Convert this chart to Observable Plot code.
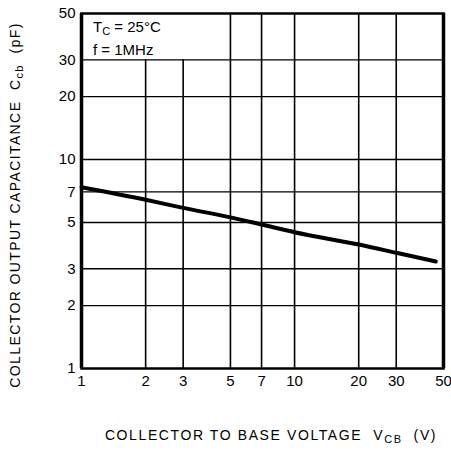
<!DOCTYPE html>
<html><head><meta charset="utf-8">
<script src="https://cdn.jsdelivr.net/npm/d3@7"></script>
<script src="https://cdn.jsdelivr.net/npm/@observablehq/plot@0.6"></script>
<style>
body{margin:0;background:#fff;}
#chart{width:451px;height:452px;}
svg text{font-family:"Liberation Sans",Arial,sans-serif;}
</style></head>
<body><div id="chart"></div>
<script>
const vcb = [1, 2, 3, 5, 7, 10, 20, 30, 46];
const ccb = [7.37, 6.42, 5.87, 5.29, 4.89, 4.49, 3.92, 3.58, 3.25];
const xTicks = [1, 2, 3, 5, 7, 10, 20, 30, 50];
const yTicks = [1, 2, 3, 5, 7, 10, 20, 30, 50];
const xGridFull = [5, 7, 10, 20, 30];
const xGridShort = [2, 3];
const yGrid = [2, 3, 5, 7, 10, 20, 30];
const xDomain = [1, 50];
const yDomain = [1, 50];
const shortTop = 30;

const data = vcb.map((v, i) => ({x: v, y: ccb[i]}));

const W = 451, H = 452;
const plot = Plot.plot({
  width: W, height: H,
  marginLeft: 81, marginRight: 8, marginTop: 13, marginBottom: 84,
  style: {fontFamily: '"Liberation Sans",Arial,sans-serif', background: "#fff", color: "#000"},
  x: {type: "log", domain: xDomain, label: null},
  y: {type: "log", domain: yDomain, label: null},
  marks: [
    Plot.ruleX(xGridFull, {stroke: "#000", strokeWidth: 1.6}),
    Plot.ruleX(xGridShort, {y1: yDomain[0], y2: shortTop, stroke: "#000", strokeWidth: 1.6}),
    Plot.ruleY(yGrid, {stroke: "#000", strokeWidth: 1.4}),
    Plot.frame({stroke: "#000", strokeWidth: 2.5}),
    Plot.ruleX([xDomain[0]], {stroke: "#000", strokeWidth: 3.5}),
    Plot.ruleX([xDomain[1]], {stroke: "#000", strokeWidth: 3.5}),
    Plot.line(data, {x: "x", y: "y", stroke: "#000", strokeWidth: 4, curve: "monotone-x"}),
    Plot.axisX({ticks: xTicks, tickFormat: d => String(d), tickSize: 0, tickPadding: 7, fontSize: 15, label: null}),
    Plot.axisY({ticks: yTicks, tickFormat: d => String(d), tickSize: 0, tickPadding: 6, fontSize: 15, label: null})
  ]
});
document.getElementById("chart").appendChild(plot);

const svg = d3.select(plot);

// Legend text inside plot
const leg = svg.append("g").attr("font-size", 15).attr("fill", "#000").attr("text-anchor", "start");
const t1 = leg.append("text").attr("x", 93).attr("y", 32);
t1.append("tspan").text("T");
t1.append("tspan").attr("font-size", 11).attr("dy", 3).text("C");
t1.append("tspan").attr("dy", -3).text(" = 25°C");
leg.append("text").attr("x", 93).attr("y", 55).text("f = 1MHz");

// X axis title
const xt = svg.append("text").attr("x", 271).attr("y", 440).attr("text-anchor", "middle")
  .attr("font-size", 14).attr("letter-spacing", 1.6).attr("fill", "#000");
xt.append("tspan").text("COLLECTOR TO BASE VOLTAGE  V");
xt.append("tspan").attr("font-size", 11).attr("dy", 3).text("CB");
xt.append("tspan").attr("dy", -3).text("  (V)");

// Y axis title
const yt = svg.append("text").attr("transform", "translate(20,205) rotate(-90)").attr("text-anchor", "middle")
  .attr("font-size", 14).attr("letter-spacing", 1.4).attr("fill", "#000");
yt.append("tspan").text("COLLECTOR OUTPUT CAPACITANCE  C");
yt.append("tspan").attr("font-size", 11).attr("dy", 3).text("cb");
yt.append("tspan").attr("dy", -3).text("  (pF)");
</script></body></html>
